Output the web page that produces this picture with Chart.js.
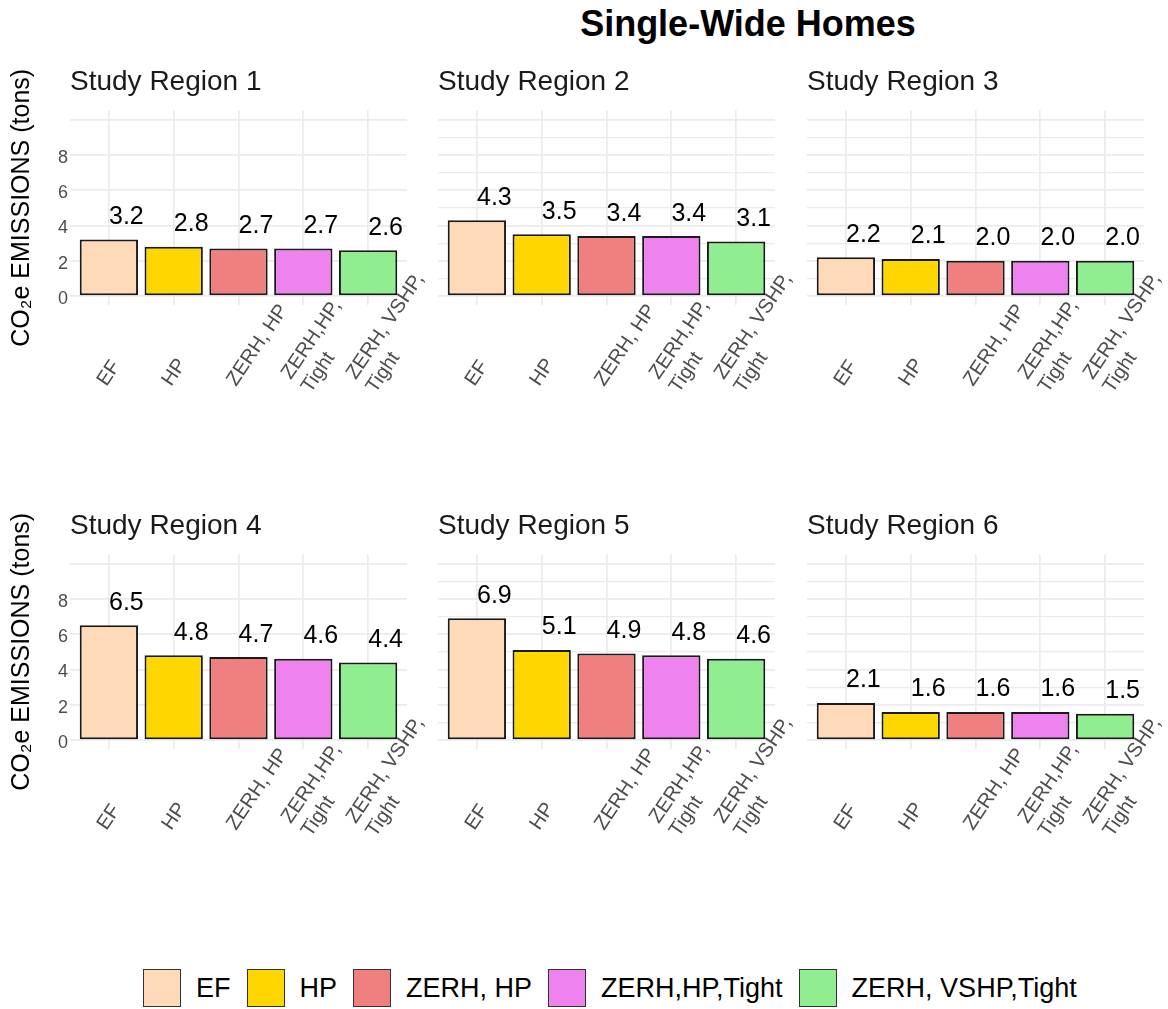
<!DOCTYPE html>
<html>
<head>
<meta charset="utf-8">
<script src="https://cdn.jsdelivr.net/npm/chart.js@4.4.1/dist/chart.umd.min.js"></script>
<style>
  body { margin: 0; background: #fff; }
  #wrap { position: relative; width: 1168px; height: 1009px; background: #fff; overflow: hidden;
          font-family: "Liberation Sans", Arial, sans-serif; }
  #wrap canvas { position: absolute; }
  #title { position: absolute; left: 448px; width: 600px; top: 4px; height: 40px; line-height: 40px;
           text-align: center; font-size: 36px; font-weight: bold; color: #000; }
  #legend { position: absolute; left: 143px; top: 969px; height: 38px; display: flex; align-items: center; }
  .key { width: 36px; height: 36px; border: 1.5px solid #333; box-sizing: content-box; }
  .lab { font-size: 27px; line-height: 38px; color: #000; margin: 0 16px 0 15px; white-space: nowrap; }
</style>
</head>
<body>
<div id="wrap">
  <div id="title">Single-Wide Homes</div>
  <div id="legend"></div>
</div>
<script>
//data
const regions = ['Study Region 1', 'Study Region 2', 'Study Region 3',
                 'Study Region 4', 'Study Region 5', 'Study Region 6'];
const categories = ['EF', 'HP', 'ZERH, HP', 'ZERH,HP,Tight', 'ZERH, VSHP,Tight'];
const axisLabels = [['EF'], ['HP'], ['ZERH, HP'], ['ZERH,HP,', 'Tight'], ['ZERH, VSHP,', 'Tight']];
const colors = ['#FFDAB9', '#FFD700', '#F08080', '#EE82EE', '#90EE90'];

const region1 = [3.2, 2.8, 2.7, 2.7, 2.6];
const region2 = [4.3, 3.5, 3.4, 3.4, 3.1];
const region3 = [2.2, 2.1, 2.0, 2.0, 2.0];
const region4 = [6.5, 4.8, 4.7, 4.6, 4.4];
const region5 = [6.9, 5.1, 4.9, 4.8, 4.6];
const region6 = [2.1, 1.6, 1.6, 1.6, 1.5];
const allValues = [region1, region2, region3, region4, region5, region6];

const yGridTicks = [0, 1, 2, 3, 4, 5, 6, 7, 8, 9, 10];
const yLabelTicks = [0, 2, 4, 6, 8];
const yTitle = 'CO\u2082e EMISSIONS (tons)';

Chart.defaults.font.family = '"Liberation Sans", Arial, sans-serif';

// layout of the 3x2 grid
const colLeft = [0, 438, 807];
const colWidth = [447, 377, 361];
const axisWidth = [70, 0, 0];
const rowTop = [65, 509];
const panelW = 337;
const canvasH = 340;

// rotated category labels, start of text sits under the tick
const xLabelPlugin = {
  id: 'xLabels',
  afterDraw(chart) {
    const {ctx, chartArea, scales: {x}} = chart;
    ctx.save();
    ctx.font = '20px "Liberation Sans", Arial, sans-serif';
    ctx.fillStyle = '#4d4d4d';
    ctx.textAlign = 'left';
    ctx.textBaseline = 'alphabetic';
    axisLabels.forEach((lines, i) => {
      ctx.save();
      ctx.translate(x.getPixelForValue(i + 1) - 2.5, chartArea.bottom + 82);
      ctx.rotate(-56 * Math.PI / 180);
      lines.forEach((t, k) => ctx.fillText(t, 0, (k - (lines.length - 1) / 2) * 24));
      ctx.restore();
    });
    ctx.restore();
  }
};

// value labels above bars, nudged right like the original
const valueLabelPlugin = {
  id: 'valueLabels',
  afterDatasetsDraw(chart) {
    const {ctx, scales: {x, y}} = chart;
    ctx.save();
    ctx.font = '25px "Liberation Sans", Arial, sans-serif';
    ctx.fillStyle = '#000';
    ctx.textAlign = 'center';
    ctx.textBaseline = 'alphabetic';
    chart.data.datasets[0].data.forEach(p => {
      ctx.fillText(p.y.toFixed(1), x.getPixelForValue(p.x + 0.27), y.getPixelForValue(p.y + 0.88));
    });
    ctx.restore();
  }
};

function makePanel(idx) {
  const col = idx % 3;
  const row = Math.floor(idx / 3);
  const canvas = document.createElement('canvas');
  canvas.width = colWidth[col];
  canvas.height = canvasH;
  canvas.style.left = colLeft[col] + 'px';
  canvas.style.top = rowTop[row] + 'px';
  document.getElementById('wrap').appendChild(canvas);

  const first = col === 0;
  new Chart(canvas.getContext('2d'), {
    type: 'bar',
    data: {
      datasets: [{
        data: allValues[idx].map((v, i) => ({x: i + 1, y: v})),
        backgroundColor: colors,
        borderColor: '#1a1a1a',
        borderWidth: 2,
        borderSkipped: false,
        barPercentage: 0.9,
        categoryPercentage: 1.0
      }]
    },
    options: {
      responsive: false,
      animation: false,
      devicePixelRatio: 1,
      layout: {padding: {left: 0, top: 0, right: colWidth[col] - axisWidth[col] - panelW, bottom: 100}},
      plugins: {
        legend: {display: false},
        tooltip: {enabled: false},
        title: {
          display: true, text: regions[idx], align: 'start', fullSize: false,
          color: '#1a1a1a', font: {size: 28, weight: 'normal'},
          padding: {top: 0, bottom: 12}
        }
      },
      scales: {
        x: {
          type: 'linear', min: 0.4, max: 5.6, offset: false,
          afterBuildTicks: s => { s.ticks = categories.map((c, i) => ({value: i + 1})); },
          afterFit: s => { s.height = 0; },
          ticks: {display: false},
          grid: {color: '#ebebeb', lineWidth: 1.7, drawTicks: false, offset: false},
          border: {display: false}
        },
        y: {
          min: -0.5, max: 10.5,
          afterBuildTicks: s => { s.ticks = yGridTicks.map(v => ({value: v})); },
          afterFit: s => { s.width = axisWidth[col]; },
          ticks: {
            display: first, padding: 2, labelOffset: 3,
            color: '#4d4d4d', font: {size: 18},
            callback: v => yLabelTicks.includes(v) ? String(v) : ''
          },
          grid: {
            color: '#ebebeb', drawTicks: false,
            lineWidth: c => (c.tick && c.tick.value % 2 === 0) ? 1.7 : 1.2
          },
          border: {display: false},
          title: {
            display: first, text: yTitle, color: '#000',
            font: {size: 25}, padding: {top: 7, bottom: 0}
          }
        }
      }
    },
    plugins: [valueLabelPlugin, xLabelPlugin]
  });
}

regions.forEach((r, i) => makePanel(i));

// legend
const legend = document.getElementById('legend');
categories.forEach((c, i) => {
  const key = document.createElement('div');
  key.className = 'key';
  key.style.background = colors[i];
  const lab = document.createElement('div');
  lab.className = 'lab';
  lab.textContent = c;
  legend.appendChild(key);
  legend.appendChild(lab);
});
</script>
</body>
</html>
